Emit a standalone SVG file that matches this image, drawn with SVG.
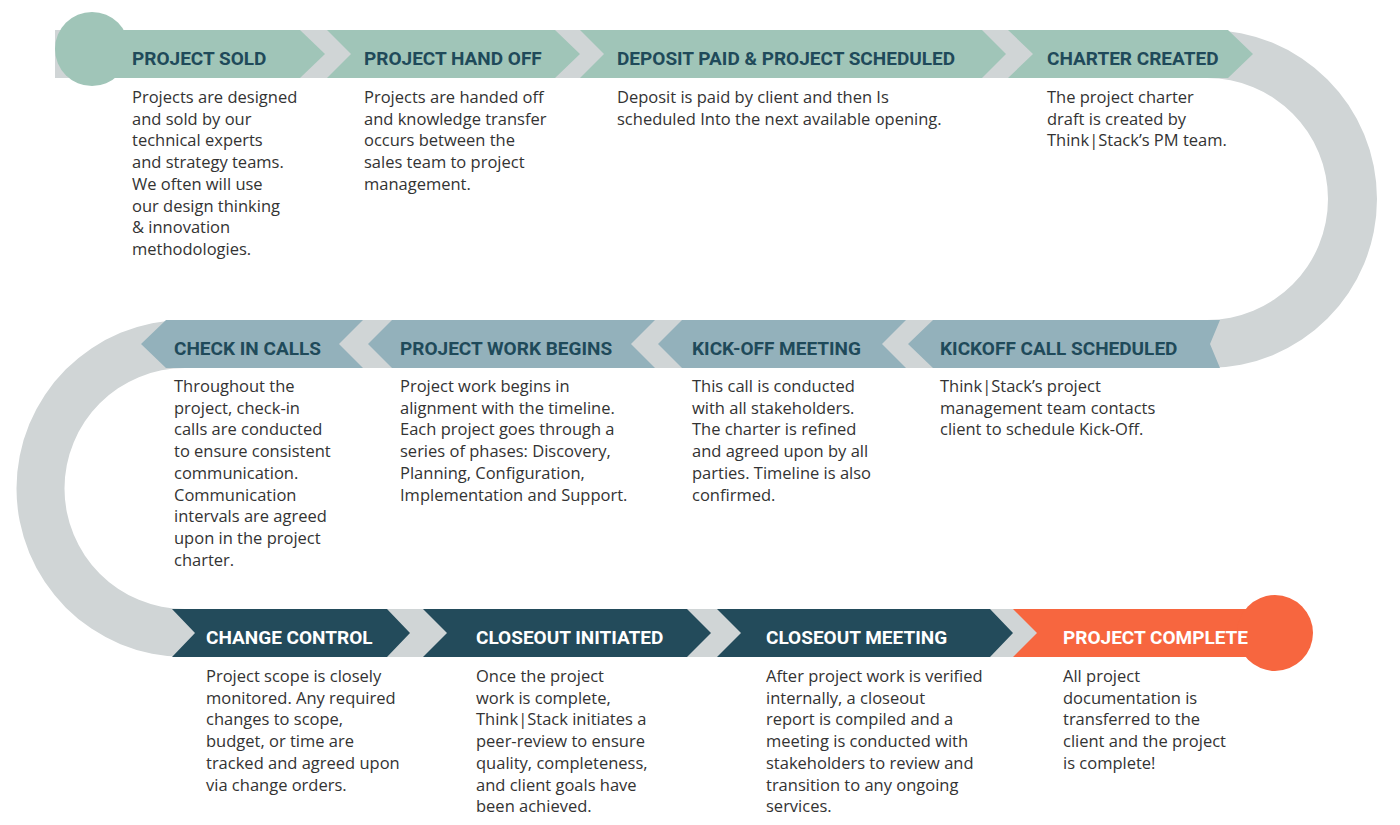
<svg xmlns="http://www.w3.org/2000/svg" width="1400" height="825" viewBox="0 0 1400 825">
<style>
.g{fill:#d0d5d6}
.c1{fill:#a0c5b8}.c2{fill:#93b1bb}.c3{fill:#234b5b}.c4{fill:#f7663f}
.t{font-family:Roboto,"Open Sans",sans-serif;font-weight:700;font-size:19px;fill:#1f4a5a}
.w{fill:#fff}
.b{font-family:"Open Sans","Noto Sans",sans-serif;font-size:16.5px;fill:#333}
</style>
<rect width="1400" height="825" fill="#fff"/>
<g id="track">
<path class="g" d="M55 30 H1208 A169 169 0 0 1 1208 368 H185 A120.5 120.5 0 0 0 185 609 H1280 V657 H185 A168.5 168.5 0 0 1 185 320 H1207 A121 121 0 0 0 1207 78 H55 Z"/>
</g>
<g id="connectors"/>
<g id="n1"><circle class="c1" cx="92" cy="49" r="37"/><polygon class="c1" points="92,30 300,30 325,54 300,78 92,78"/><text class="t" x="132" y="65">PROJECT SOLD</text>
<text class="b"><tspan x="132" y="103">Projects are designed</tspan><tspan x="132" y="124.7">and sold by our</tspan><tspan x="132" y="146.4">technical experts</tspan><tspan x="132" y="168.1">and strategy teams.</tspan><tspan x="132" y="189.8">We often will use</tspan><tspan x="132" y="211.5">our design thinking</tspan><tspan x="132" y="233.2">&amp; innovation</tspan><tspan x="132" y="254.9">methodologies.</tspan></text></g>
<g id="n2"><polygon class="c1" points="327,30 555,30 580,54 555,78 327,78 351,54"/><text class="t" x="364" y="65">PROJECT HAND OFF</text>
<text class="b"><tspan x="364" y="103">Projects are handed off</tspan><tspan x="364" y="124.7">and knowledge transfer</tspan><tspan x="364" y="146.4">occurs between the</tspan><tspan x="364" y="168.1">sales team to project</tspan><tspan x="364" y="189.8">management.</tspan></text></g>
<g id="n3"><polygon class="c1" points="580,30 982,30 1006,54 982,78 580,78 604,54"/><text class="t" x="617" y="65">DEPOSIT PAID &amp; PROJECT SCHEDULED</text>
<text class="b"><tspan x="617" y="103">Deposit is paid by client and then Is</tspan><tspan x="617" y="124.7">scheduled Into the next available opening.</tspan></text></g>
<g id="n4"><polygon class="c1" points="1008,30 1228,30 1253,54 1228,78 1008,78 1033,54"/><text class="t" x="1047" y="65">CHARTER CREATED</text>
<text class="b"><tspan x="1047" y="103">The project charter</tspan><tspan x="1047" y="124.7">draft is created by</tspan><tspan x="1047" y="146.4">Think|Stack’s PM team.</tspan></text></g>
<g id="n5"><polygon class="c2" points="933,320 1220,320 1210,344 1220,368 933,368 908,344"/><text class="t" x="940" y="355">KICKOFF CALL SCHEDULED</text>
<text class="b"><tspan x="940" y="392">Think|Stack’s project</tspan><tspan x="940" y="413.7">management team contacts</tspan><tspan x="940" y="435.4">client to schedule Kick-Off.</tspan></text></g>
<g id="n6"><polygon class="c2" points="682,320 906,320 882,344 906,368 682,368 658,344"/><text class="t" x="692" y="355">KICK-OFF MEETING</text>
<text class="b"><tspan x="692" y="392">This call is conducted</tspan><tspan x="692" y="413.7">with all stakeholders.</tspan><tspan x="692" y="435.4">The charter is refined</tspan><tspan x="692" y="457.1">and agreed upon by all</tspan><tspan x="692" y="478.8">parties. Timeline is also</tspan><tspan x="692" y="500.5">confirmed.</tspan></text></g>
<g id="n7"><polygon class="c2" points="392,320 655,320 631,344 655,368 392,368 368,344"/><text class="t" x="400" y="355">PROJECT WORK BEGINS</text>
<text class="b"><tspan x="400" y="392">Project work begins in</tspan><tspan x="400" y="413.7">alignment with the timeline.</tspan><tspan x="400" y="435.4">Each project goes through a</tspan><tspan x="400" y="457.1">series of phases: Discovery,</tspan><tspan x="400" y="478.8">Planning, Configuration,</tspan><tspan x="400" y="500.5">Implementation and Support.</tspan></text></g>
<g id="n8"><polygon class="c2" points="166,320 363,320 339,344 363,368 166,368 141,344"/><text class="t" x="174" y="355">CHECK IN CALLS</text>
<text class="b"><tspan x="174" y="392">Throughout the</tspan><tspan x="174" y="413.7">project, check-in</tspan><tspan x="174" y="435.4">calls are conducted</tspan><tspan x="174" y="457.1">to ensure consistent</tspan><tspan x="174" y="478.8">communication.</tspan><tspan x="174" y="500.5">Communication</tspan><tspan x="174" y="522.2">intervals are agreed</tspan><tspan x="174" y="543.9">upon in the project</tspan><tspan x="174" y="565.6">charter.</tspan></text></g>
<g id="n9"><polygon class="c3" points="172,609 387,609 410,633 387,657 172,657 195,633"/><text class="t w" x="206" y="644">CHANGE CONTROL</text>
<text class="b"><tspan x="206" y="682">Project scope is closely</tspan><tspan x="206" y="703.7">monitored. Any required</tspan><tspan x="206" y="725.4">changes to scope,</tspan><tspan x="206" y="747.1">budget, or time are</tspan><tspan x="206" y="768.8">tracked and agreed upon</tspan><tspan x="206" y="790.5">via change orders.</tspan></text></g>
<g id="n10"><polygon class="c3" points="423,609 687,609 711,633 687,657 423,657 447,633"/><text class="t w" x="476" y="644">CLOSEOUT INITIATED</text>
<text class="b"><tspan x="476" y="682">Once the project</tspan><tspan x="476" y="703.7">work is complete,</tspan><tspan x="476" y="725.4">Think|Stack initiates a</tspan><tspan x="476" y="747.1">peer-review to ensure</tspan><tspan x="476" y="768.8">quality,  completeness,</tspan><tspan x="476" y="790.5">and client goals have</tspan><tspan x="476" y="812.2">been achieved.</tspan></text></g>
<g id="n11"><polygon class="c3" points="717,609 990,609 1013,633 990,657 717,657 741,633"/><text class="t w" x="766" y="644">CLOSEOUT MEETING</text>
<text class="b"><tspan x="766" y="682">After project work is verified</tspan><tspan x="766" y="703.7">internally, a closeout</tspan><tspan x="766" y="725.4">report is compiled and a</tspan><tspan x="766" y="747.1">meeting is conducted with</tspan><tspan x="766" y="768.8">stakeholders to review and</tspan><tspan x="766" y="790.5">transition to any ongoing</tspan><tspan x="766" y="812.2">services.</tspan></text></g>
<g id="n12"><polygon class="c4" points="1013,609 1275,609 1275,657 1013,657 1037,633"/><circle class="c4" cx="1275" cy="633" r="38"/><text class="t w" x="1063" y="644">PROJECT COMPLETE</text>
<text class="b"><tspan x="1063" y="682">All project</tspan><tspan x="1063" y="703.7">documentation is</tspan><tspan x="1063" y="725.4">transferred to the</tspan><tspan x="1063" y="747.1">client and the project</tspan><tspan x="1063" y="768.8">is complete!</tspan></text></g>
</svg>
